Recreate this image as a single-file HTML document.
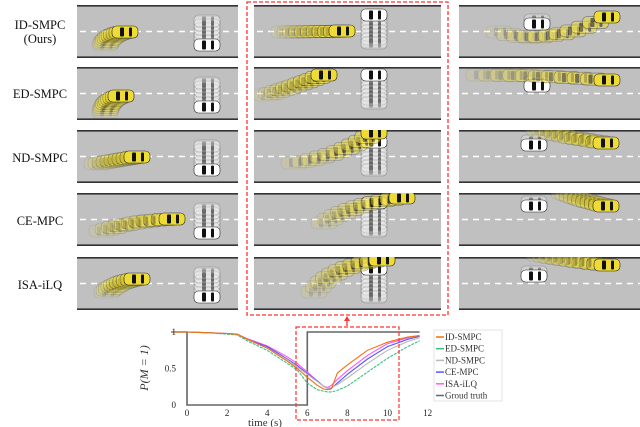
<!DOCTYPE html>
<html><head><meta charset="utf-8"><style>
body{margin:0;background:#fff;width:640px;height:427px;overflow:hidden;font-family:"Liberation Serif",serif}
</style></head><body>
<svg id="s" width="640" height="427" xmlns="http://www.w3.org/2000/svg" style="position:absolute;left:0;top:0">
<g id="panels"></g>
<g font-family="Liberation Serif,serif" font-size="12.5" text-anchor="middle" fill="#111">
<text x="40" y="29">ID-SMPC</text>
<text x="40" y="43">(Ours)</text>
<text x="40" y="98">ED-SMPC</text>
<text x="40" y="162">ND-SMPC</text>
<text x="40" y="225">CE-MPC</text>
<text x="40" y="289">ISA-iLQ</text>
</g>
<rect x="247" y="2" width="201" height="313" fill="none" stroke="#f33" stroke-width="1.3" stroke-dasharray="4,2"/>
<line x1="347" y1="326" x2="347" y2="320" stroke="#f33" stroke-width="1.3"/>
<polygon points="344,321 350,321 347,316" fill="#f33"/>
<g id="chart"></g>
</svg>
<script>
var ns="http://www.w3.org/2000/svg";
function mk(tag,at,parent){var e=document.createElementNS(ns,tag);for(var k in at)e.setAttribute(k,at[k]);parent.appendChild(e);return e;}
var S=document.getElementById('panels');
var cols=[[77,161],[254,187],[459,181]];
var rows=[5,67,130,193,257];
var H=53;
var scenes=[
[[48,27],[28,40],[32,30],[130,40]],[[88,26],[30,27],[60,27],[120,10]],[[148,12],[40,27],[90,42],[78,19]],
[[44,29],[28,45],[30,33],[130,40]],[[70,8],[12,28],[40,20],[120,8]],[[148,13],[20,8],[80,8],[78,19]],
[[60,27],[20,34],[40,30],[130,40]],[[120,3],[40,33],[90,25],[120,12]],[[147,13],[80,0],[110,8],[75,15]],
[[95,26],[25,38],[55,28],[130,40]],[[148,5],[70,30],[100,10],[120,10]],[[147,13],[105,0],[125,8],[75,13]],
[[60,22],[30,35],[40,25],[130,40]],[[128,3],[60,35],[80,8],[120,12]],[[148,8],[80,-2],[110,4],[75,19]]];
function car(g,x,y,fill,op){
 var c=mk('g',{transform:'translate('+x+','+y+')',opacity:op},g);
 mk('rect',{x:-13,y:-6,width:26,height:12,rx:4.5,fill:fill,stroke:'#222','stroke-width':0.6},c);
 mk('rect',{x:-5,y:-4.5,width:4,height:9,rx:1,fill:'#111'},c);
 mk('rect',{x:4,y:-4.5,width:3,height:9,rx:1,fill:'#111'},c);
 return c;}
for(var r=0;r<5;r++)for(var c=0;c<3;c++){
 var x0=cols[c][0],w=cols[c][1],y0=rows[r];
 var g=mk('g',{},S);
 
 
 var cp=mk('clipPath',{id:'cp'+r+c},g);mk('rect',{x:x0,y:y0,width:w,height:H},cp);
 mk('rect',{x:x0,y:y0,width:w,height:H,fill:'#c0c0c0'},g);
 mk('line',{x1:x0,y1:y0+0.8,x2:x0+w,y2:y0+0.8,stroke:'#333','stroke-width':1.6},g);
 mk('line',{x1:x0,y1:y0+H-0.8,x2:x0+w,y2:y0+H-0.8,stroke:'#333','stroke-width':1.6},g);
 mk('line',{x1:x0+3,y1:y0+H/2,x2:x0+w,y2:y0+H/2,stroke:'#fff','stroke-width':1.6,'stroke-dasharray':'6,5'},g);
 var sc=scenes[r*3+c];var cg=mk('g',{'clip-path':'url(#cp'+r+c+')'},g);
 var wx=x0+sc[3][0],wy=y0+sc[3][1];
 if(c==0){mk('rect',{x:wx-13,y:wy-28,width:26,height:30,rx:4,fill:'#e4e4e4',opacity:0.7},cg);
  for(var k=1;k<7;k++)car(cg,wx,wy-k*4,'#eee',0.3);}
 else if(c==1){mk('rect',{x:wx-13,y:wy-2,width:26,height:34,rx:4,fill:'#e4e4e4',opacity:0.7},cg);
  for(var k=1;k<8;k++)car(cg,wx,wy+k*4,'#eee',0.3);}
 else car(cg,wx,wy-4,'#eee',0.35);
 car(cg,wx,wy,'#fff',1);
 var n=10;for(var k=0;k<=n;k++){var t=k/n;
  var px=(1-t)*(1-t)*sc[1][0]+2*t*(1-t)*sc[2][0]+t*t*sc[0][0];
  var py=(1-t)*(1-t)*sc[1][1]+2*t*(1-t)*sc[2][1]+t*t*sc[0][1];
  car(cg,x0+px,y0+py,'#eedc35',k==n?1:0.12+0.45*t);}
}
// ---------- chart data ----------
var times=[-0.8,0,1,2,2.5,3,4,5,5.5,6,6.5,6.8,7,7.2,7.5,8,9,10,11,11.6];
var idSmpc=[1,1,0.99,0.98,0.97,0.9,0.78,0.6,0.5,0.38,0.27,0.22,0.21,0.22,0.44,0.55,0.75,0.86,0.93,0.95];
var edSmpc=[1,1,0.99,0.97,0.96,0.88,0.75,0.57,0.48,0.3,0.21,0.19,0.18,0.18,0.2,0.26,0.45,0.64,0.8,0.88];
var ndSmpc=[1,1,0.99,0.98,0.97,0.9,0.78,0.62,0.52,0.42,0.32,0.26,0.23,0.24,0.28,0.37,0.57,0.75,0.87,0.92];
var ceMpc=[1,1,0.99,0.98,0.97,0.9,0.8,0.63,0.54,0.43,0.33,0.26,0.23,0.23,0.3,0.42,0.63,0.8,0.9,0.94];
var isaIlq=[1,1,0.99,0.98,0.97,0.91,0.81,0.66,0.57,0.45,0.33,0.26,0.24,0.27,0.35,0.47,0.68,0.84,0.92,0.95];
var gtTimes=[-0.8,0,0,6,6,11.6];
var gtVals=[1,1,0,0,1,1];
var xTicks=[0,2,4,6,8,10,12];
var yTicks=[0,0.5,1];
var yTickLabels=['0','0.5','1'];
var seriesNames=['ID-SMPC','ED-SMPC','ND-SMPC','CE-MPC','ISA-iLQ','Groud truth'];
var C=document.getElementById('chart');
function X(t){return 187+t*20.05;}
function Y(p){return 405-p*73;}
function path(ts,vs){return ts.map(function(t,i){return (i?'L':'M')+X(t).toFixed(1)+','+Y(vs[i]).toFixed(1);}).join('');}
var gt=mk('path',{d:path(gtTimes,gtVals),fill:'none',stroke:'#666','stroke-width':1.6},C);

var ser=[[idSmpc,'#f07010','none','series-id-smpc'],[edSmpc,'#3cc080','3,1','series-ed-smpc'],[ndSmpc,'#b8b8b8','none','series-nd-smpc'],[ceMpc,'#5555ff','none','series-ce-mpc'],[isaIlq,'#ff55ff','none','series-isa-ilq']];
ser.slice().reverse().forEach(function(s){var p=mk('path',{d:path(times,s[0]),fill:'none',stroke:s[1],'stroke-width':1.1,'stroke-dasharray':s[2]},C);
 });
xTicks.forEach(function(t){var e=mk('text',{x:X(t),y:416,'font-size':9,'text-anchor':'middle',fill:'#222'},C);e.textContent=t;
 });
yTicks.forEach(function(v,i){var e=mk('text',{x:176,y:Y(v)+3,'font-size':9,'text-anchor':'end',fill:'#222'},C);e.textContent=yTickLabels[i];
 });
var xt=mk('text',{x:265,y:426,'font-size':11,'text-anchor':'middle',fill:'#333'},C);xt.textContent='time (s)';

var yt=mk('text',{x:0,y:0,'font-size':12,'text-anchor':'middle',fill:'#333','font-style':'italic',transform:'translate(148,368) rotate(-90)'},C);yt.textContent='P(M = 1)';

var rb=mk('rect',{x:296,y:327,width:103,height:93,fill:'none',stroke:'#f33','stroke-width':1.2,'stroke-dasharray':'4,2'},C);

var lg=mk('g',{},C);
mk('rect',{x:434,y:330,width:68,height:71,fill:'#fff',stroke:'#ddd','stroke-width':0.8},lg);
var lc=['#f07010','#3cc080','#b8b8b8','#5555ff','#ff55ff','#666'];
seriesNames.forEach(function(n,i){var y=337+i*11.7;
 mk('line',{x1:436,y1:y,x2:444,y2:y,stroke:lc[i],'stroke-width':1.5},lg);
 var e=mk('text',{x:445,y:y+3,'font-size':9,fill:'#333'},lg);e.textContent=n;
 });
</script>
</body></html>
